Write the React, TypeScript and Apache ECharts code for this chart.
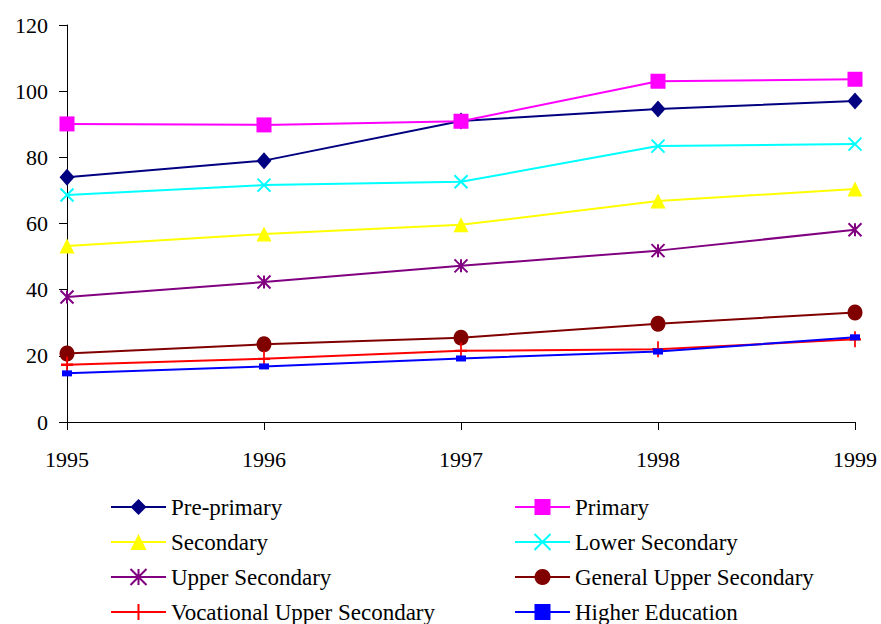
import React, { useEffect, useRef } from "react";
import * as echarts from "echarts";

const years = ["1995", "1996", "1997", "1998", "1999"];
const prePrimary = [74.0, 79.0, 91.0, 94.6, 97.0];
const primary = [90.1, 89.8, 90.9, 103.0, 103.6];
const secondary = [53.2, 56.8, 59.6, 66.8, 70.4];
const lowerSecondary = [68.6, 71.6, 72.6, 83.4, 84.0];
const upperSecondary = [37.8, 42.3, 47.2, 51.8, 58.1];
const generalUpperSecondary = [20.7, 23.5, 25.5, 29.7, 33.1];
const vocationalUpperSecondary = [17.3, 19.1, 21.5, 22.0, 25.0];
const higherEducation = [14.7, 16.8, 19.2, 21.3, 25.6];

const FONT = "Liberation Serif";

const X_PATH = "path://M0,0 L10,10 M10,0 L0,10";
const AST_PATH = "path://M5,0 L5,10 M0,0 L10,10 M10,0 L0,10";
const PLUS_PATH = "path://M5,0 L5,10 M0,5 L10,5";

const legendLayout: [string, number, number][] = [
  ["Pre-primary", 110, 507],
  ["Primary", 514, 507],
  ["Secondary", 110, 542],
  ["Lower Secondary", 514, 542],
  ["Upper Secondary", 110, 577],
  ["General Upper Secondary", 514, 577],
  ["Vocational Upper Secondary", 110, 612],
  ["Higher Education", 514, 612],
];

export default function App() {
  const ref = useRef<HTMLDivElement>(null);
  useEffect(() => {
    document.body.style.margin = "0";
    if (!ref.current) return;
    const chart = echarts.init(ref.current, undefined, { renderer: "svg" });
    const mk = (
      name: string,
      data: number[],
      color: string,
      symbol: string,
      symbolSize: number | number[],
      stroked = false
    ) => ({
      name,
      type: "line",
      data,
      symbol,
      symbolSize,
      showSymbol: true,
      lineStyle: { color, width: 2 },
      itemStyle: stroked
        ? { color, borderColor: color, borderWidth: 2 }
        : { color, borderWidth: 0 },
      emphasis: { disabled: true },
    });
    chart.setOption({
      animation: false,
      backgroundColor: "#fff",
      grid: { left: 67, right: 26, top: 25, bottom: 202 },
      legend: legendLayout.map(([name, left, top]) => ({
        data: [name],
        left,
        top: top - 12,
        padding: 0,
        itemWidth: 55,
        itemHeight: 20,
        itemGap: 5,
        selectedMode: false,
        textStyle: { fontFamily: FONT, fontSize: 23, color: "#000", lineHeight: 24 },
      })),
      xAxis: {
        type: "category",
        data: years,
        boundaryGap: false,
        axisLine: { lineStyle: { color: "#000", width: 1 } },
        axisTick: { alignWithLabel: true, length: 8, lineStyle: { color: "#000" } },
        axisLabel: { fontFamily: FONT, fontSize: 22, color: "#000", margin: 26 },
        splitLine: { show: false },
      },
      yAxis: {
        type: "value",
        min: 0,
        max: 120,
        interval: 20,
        axisLine: { show: true, lineStyle: { color: "#000", width: 1 } },
        axisTick: { show: true, length: 8, lineStyle: { color: "#000" } },
        axisLabel: { fontFamily: FONT, fontSize: 22, color: "#000", margin: 19 },
        splitLine: { show: false },
      },
      series: [
        mk("Pre-primary", prePrimary, "#000080", "diamond", [15, 17]),
        mk("Primary", primary, "#FF00FF", "rect", 15),
        mk("Secondary", secondary, "#FFFF00", "triangle", 15),
        mk("Lower Secondary", lowerSecondary, "#00FFFF", X_PATH, 13, true),
        mk("Upper Secondary", upperSecondary, "#800080", AST_PATH, 13, true),
        mk("General Upper Secondary", generalUpperSecondary, "#800000", "circle", [15, 16]),
        mk("Vocational Upper Secondary", vocationalUpperSecondary, "#FF0000", PLUS_PATH, [12, 16], true),
        mk("Higher Education", higherEducation, "#0000FF", "rect", [10, 6]),
      ],
    });
    return () => chart.dispose();
  }, []);
  return <div ref={ref} style={{ width: 881, height: 624 }} />;
}
